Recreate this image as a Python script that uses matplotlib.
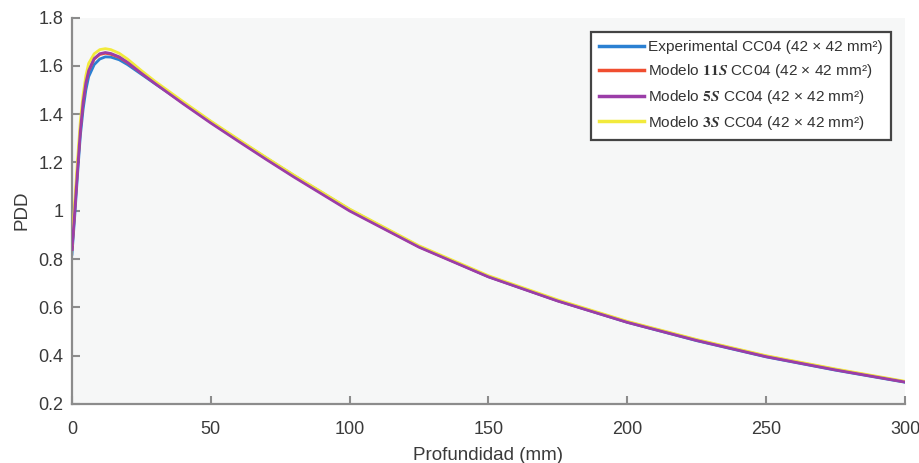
import matplotlib
matplotlib.use("Agg")
import matplotlib.pyplot as plt

plt.rcParams['font.family'] = ['Liberation Sans', 'DejaVu Sans']
plt.rcParams['mathtext.fontset'] = 'stix'

depth = [0, 1, 2, 3, 4, 5, 6, 8, 10, 12, 14, 17, 20, 25, 30, 40, 50, 60, 70, 80,
         90, 100, 125, 150, 175, 200, 225, 250, 275, 300]

pdd_exp = [0.82, 0.98, 1.15, 1.31, 1.42, 1.50, 1.555, 1.605, 1.628, 1.637, 1.636, 1.625,
           1.605, 1.565, 1.525, 1.447, 1.368, 1.292, 1.218, 1.145, 1.075, 1.005, 0.852,
           0.727, 0.627, 0.538, 0.462, 0.395, 0.340, 0.290]
pdd_11s = [0.84, 1.01, 1.18, 1.34, 1.45, 1.53, 1.58, 1.628, 1.647, 1.652, 1.648, 1.635,
           1.613, 1.57, 1.528, 1.446, 1.366, 1.29, 1.215, 1.142, 1.072, 1.002, 0.851,
           0.728, 0.628, 0.540, 0.465, 0.398, 0.343, 0.292]
pdd_5s = [0.84, 1.0, 1.17, 1.33, 1.45, 1.53, 1.58, 1.63, 1.65, 1.655, 1.651, 1.637,
          1.614, 1.569, 1.526, 1.443, 1.363, 1.287, 1.212, 1.139, 1.069, 0.999, 0.849,
          0.726, 0.626, 0.538, 0.463, 0.396, 0.341, 0.291]
pdd_3s = [0.86, 1.04, 1.21, 1.37, 1.48, 1.56, 1.61, 1.65, 1.667, 1.671, 1.667, 1.652,
          1.628, 1.58, 1.535, 1.452, 1.371, 1.295, 1.22, 1.147, 1.077, 1.007, 0.855,
          0.731, 0.631, 0.542, 0.467, 0.40, 0.345, 0.294]

labels = [
    'Experimental CC04 (42 × 42 mm²)',
    r'Modelo $\mathbf{11}\mathbfit{S}$ CC04 (42 × 42 mm²)',
    r'Modelo $\mathbf{5}\mathbfit{S}$ CC04 (42 × 42 mm²)',
    r'Modelo $\mathbf{3}\mathbfit{S}$ CC04 (42 × 42 mm²)',
]

x_ticks = [0, 50, 100, 150, 200, 250, 300]
y_ticks = [0.2, 0.4, 0.6, 0.8, 1.0, 1.2, 1.4, 1.6, 1.8]
y_tick_labels = ['0.2', '0.4', '0.6', '0.8', '1', '1.2', '1.4', '1.6', '1.8']

fig = plt.figure(figsize=(9.2, 4.63), dpi=100)
ax = fig.add_axes([72 / 920, 59 / 463, 833 / 920, 386.5 / 463])
ax.set_facecolor('#f6f7f7')

lw = 2.0
ax.plot(depth, pdd_exp, color='#2b80d2', lw=lw, label=labels[0], zorder=2)
ax.plot(depth, pdd_11s, color='#f04e30', lw=lw, label=labels[1], zorder=3)
ax.plot(depth, pdd_5s, color='#9b3da8', lw=lw, label=labels[2], zorder=5)
ax.plot(depth, pdd_3s, color='#f2ea3c', lw=lw, label=labels[3], zorder=4)

ax.set_xlim(0, 300)
ax.set_ylim(0.2, 1.8)
ax.set_xticks(x_ticks)
ax.set_yticks(y_ticks)
ax.set_yticklabels(y_tick_labels)

for s in ['top', 'right']:
    ax.spines[s].set_visible(False)
for s in ['left', 'bottom']:
    ax.spines[s].set_color('#8c8c8c')
    ax.spines[s].set_linewidth(1.6)

ax.tick_params(direction='in', length=6, width=1.5, color='#8c8c8c',
               labelsize=13, labelcolor='#3a3a3a')
ax.tick_params(axis='x', pad=12)
ax.tick_params(axis='y', pad=6)

ax.set_xlabel('Profundidad (mm)', fontsize=13.5, color='#3a3a3a', labelpad=7)
ax.set_ylabel('PDD', fontsize=13.5, color='#3a3a3a', labelpad=6)

leg = ax.legend(loc='upper right', bbox_to_anchor=(819 / 833, 372 / 386.5),
                borderaxespad=0, fontsize=11.1, handlelength=2.9, handletextpad=0.25,
                labelspacing=0.5, borderpad=0.55, fancybox=False, framealpha=1,
                facecolor='white', edgecolor='#444444')
leg.get_frame().set_linewidth(1.6)
for line in leg.get_lines():
    line.set_linewidth(2.5)
for t in leg.get_texts():
    t.set_color('#333333')

fig.savefig('out.png', dpi=100, facecolor='white')
